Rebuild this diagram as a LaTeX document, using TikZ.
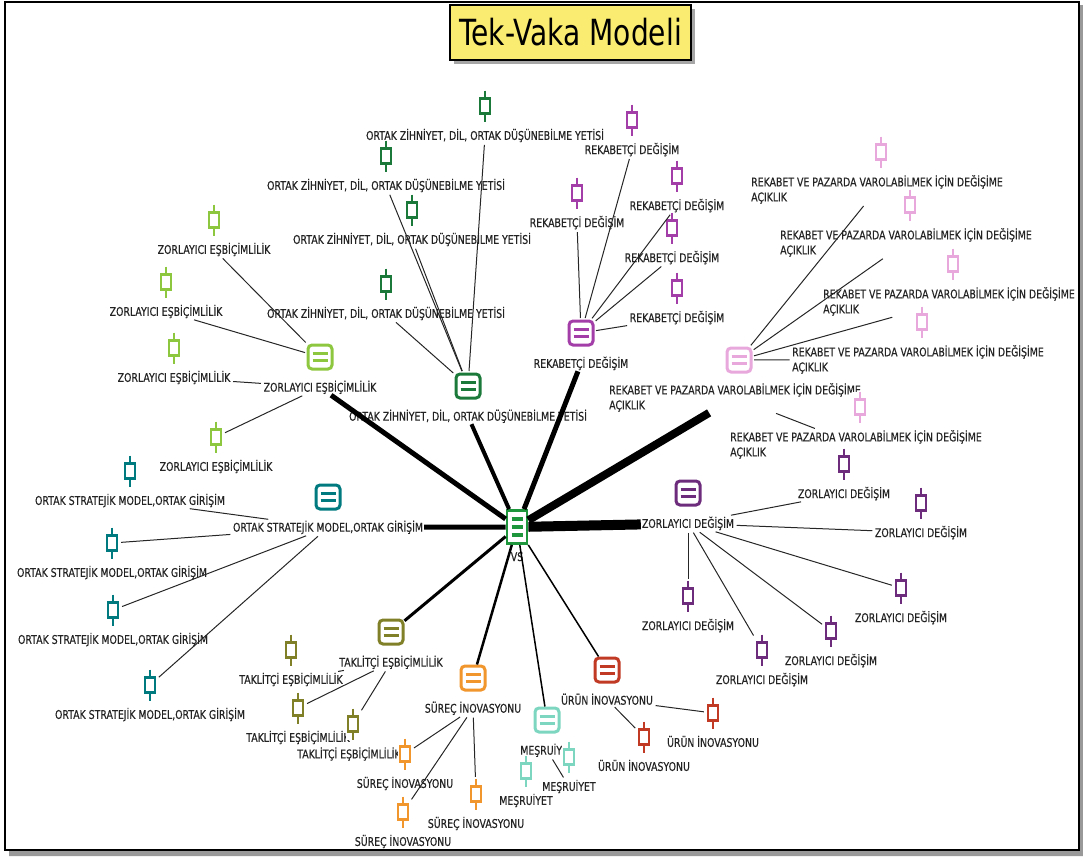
\documentclass[tikz,border=0pt]{standalone}
\usepackage{fontspec}
\usepackage{tikz}
\usetikzlibrary{positioning}
\newfontfamily\lblfont{DejaVu Sans}[FakeStretch=0.78, FakeBold=0.4]
\newfontfamily\ttlfont{DejaVu Sans}[FakeStretch=0.78]
\definecolor{txtC}{RGB}{35,35,35}
\definecolor{titleC}{RGB}{250,236,112}
\definecolor{vsC}{RGB}{30,150,60}
\definecolor{zeC}{RGB}{141,198,63}
\definecolor{ozC}{RGB}{27,122,58}
\definecolor{rdC}{RGB}{163,62,168}
\definecolor{rpC}{RGB}{232,168,220}
\definecolor{zdC}{RGB}{110,44,124}
\definecolor{osC}{RGB}{0,122,126}
\definecolor{teC}{RGB}{128,128,40}
\definecolor{siC}{RGB}{240,150,44}
\definecolor{meC}{RGB}{125,214,192}
\definecolor{uiC}{RGB}{192,58,36}
\tikzset{
  lbl/.style={font={\lblfont\fontsize{12}{15}\selectfont}, text=txtC, inner sep=1pt},
  lbl2/.style={lbl, align=left, anchor=north west},
  hub/.style={draw=#1, fill=white, line width=3pt, rounded corners=4pt,
    minimum size=24pt, inner sep=0pt,
    path picture={\draw[#1, line width=2.8pt, sharp corners]
      ([shift={(-7.5pt,3.8pt)}]path picture bounding box.center) -- +(15pt,0pt)
      ([shift={(-7.5pt,-3.8pt)}]path picture bounding box.center) -- +(15pt,0pt);}},
  leaf/.style={fill=white, minimum width=15pt, minimum height=31pt, inner sep=0pt,
    path picture={\draw[#1, line width=2.8pt]
      ([yshift=15.5pt]path picture bounding box.center) -- ([yshift=-15.5pt]path picture bounding box.center);
      \filldraw[draw=#1, fill=white, line width=2.8pt]
      ([shift={(-5pt,-7.5pt)}]path picture bounding box.center) rectangle
      ([shift={(5pt,7.5pt)}]path picture bounding box.center);}},
  vs/.style={draw=vsC, fill=white, line width=2.8pt, minimum width=20pt,
    minimum height=33pt, inner sep=0pt,
    path picture={\foreach \dy in {-8,0,8}
      \draw[vsC, line width=4.2pt] ([shift={(-5.5pt,\dy pt)}]path picture bounding box.center) -- +(11pt,0pt);}},
  link/.style={draw=black!85, line width=1pt, shorten <=1.5pt, shorten >=1.5pt}
}
\begin{document}
\begin{tikzpicture}[x=1pt, y=-1pt]
  \useasboundingbox (0,0) rectangle (1083,857);
  \fill[black!40] (9,851) rectangle (1083,856) (1079,5) rectangle (1083,856);
  \draw[line width=2pt] (5,1.5) rectangle (1079,850);
  \fill[gray!70] (454,9) rectangle (695,64);
  \node [draw, line width=1.2pt, fill=titleC, minimum width=241pt, minimum height=55pt,
    inner sep=0pt, font={\ttlfont\fontsize{36}{40}\selectfont}] (T) at (570.5,32.5) {Tek-Vaka Modeli};

  \node [vs] (V) at (517,527) {};
  \node [lbl, below=6pt of V] (VL) {VS};

  \node [hub=zeC] (ZE) at (320,357) {};
  \node [lbl, below=9pt of ZE] (ZEL) {ZORLAYICI EŞBİÇİMLİLİK};
  \node [leaf=zeC] (ZE1) at (214,220) {};
  \node [lbl, below=6pt of ZE1] (ZE1L) {ZORLAYICI EŞBİÇİMLİLİK};
  \node [leaf=zeC] (ZE2) at (166,282) {};
  \node [lbl, below=6pt of ZE2] (ZE2L) {ZORLAYICI EŞBİÇİMLİLİK};
  \node [leaf=zeC] (ZE3) at (174,348) {};
  \node [lbl, below=6pt of ZE3] (ZE3L) {ZORLAYICI EŞBİÇİMLİLİK};
  \node [leaf=zeC] (ZE4) at (216,437) {};
  \node [lbl, below=6pt of ZE4] (ZE4L) {ZORLAYICI EŞBİÇİMLİLİK};

  \node [hub=ozC] (OZ) at (468,386) {};
  \node [lbl, below=9pt of OZ] (OZL) {ORTAK ZİHNİYET, DİL, ORTAK DÜŞÜNEBİLME YETİSİ};
  \node [leaf=ozC] (OZ1) at (485,106) {};
  \node [lbl, below=6pt of OZ1] (OZ1L) {ORTAK ZİHNİYET, DİL, ORTAK DÜŞÜNEBİLME YETİSİ};
  \node [leaf=ozC] (OZ2) at (386,156) {};
  \node [lbl, below=6pt of OZ2] (OZ2L) {ORTAK ZİHNİYET, DİL, ORTAK DÜŞÜNEBİLME YETİSİ};
  \node [leaf=ozC] (OZ3) at (412,210) {};
  \node [lbl, below=6pt of OZ3] (OZ3L) {ORTAK ZİHNİYET, DİL, ORTAK DÜŞÜNEBİLME YETİSİ};
  \node [leaf=ozC] (OZ4) at (386,284) {};
  \node [lbl, below=6pt of OZ4] (OZ4L) {ORTAK ZİHNİYET, DİL, ORTAK DÜŞÜNEBİLME YETİSİ};

  \node [hub=rdC] (RD) at (581,333) {};
  \node [lbl, below=9pt of RD] (RDL) {REKABETÇİ DEĞİŞİM};
  \node [leaf=rdC] (RD1) at (632,120) {};
  \node [lbl, below=6pt of RD1] (RD1L) {REKABETÇİ DEĞİŞİM};
  \node [leaf=rdC] (RD2) at (577,193) {};
  \node [lbl, below=6pt of RD2] (RD2L) {REKABETÇİ DEĞİŞİM};
  \node [leaf=rdC] (RD3) at (677,176) {};
  \node [lbl, below=6pt of RD3] (RD3L) {REKABETÇİ DEĞİŞİM};
  \node [leaf=rdC] (RD4) at (672,228) {};
  \node [lbl, below=6pt of RD4] (RD4L) {REKABETÇİ DEĞİŞİM};
  \node [leaf=rdC] (RD5) at (677,288) {};
  \node [lbl, below=6pt of RD5] (RD5L) {REKABETÇİ DEĞİŞİM};

  \node [hub=rpC] (RP) at (739,360) {};
  \node [lbl2] (RPL) at ([shift={(-131pt,-22pt)}]RP.center) {REKABET VE PAZARDA VAROLABİLMEK İÇİN DEĞİŞİME\\AÇIKLIK};
  \node [leaf=rpC] (RP1) at (881,152) {};
  \node [lbl2] (RP1L) at ([shift={(-131pt,-22pt)}]RP1.center) {REKABET VE PAZARDA VAROLABİLMEK İÇİN DEĞİŞİME\\AÇIKLIK};
  \node [leaf=rpC] (RP2) at (910,205) {};
  \node [lbl2] (RP2L) at ([shift={(-131pt,-22pt)}]RP2.center) {REKABET VE PAZARDA VAROLABİLMEK İÇİN DEĞİŞİME\\AÇIKLIK};
  \node [leaf=rpC] (RP3) at (953,264) {};
  \node [lbl2] (RP3L) at ([shift={(-131pt,-22pt)}]RP3.center) {REKABET VE PAZARDA VAROLABİLMEK İÇİN DEĞİŞİME\\AÇIKLIK};
  \node [leaf=rpC] (RP4) at (922,322) {};
  \node [lbl2] (RP4L) at ([shift={(-131pt,-22pt)}]RP4.center) {REKABET VE PAZARDA VAROLABİLMEK İÇİN DEĞİŞİME\\AÇIKLIK};
  \node [leaf=rpC] (RP5) at (860,407) {};
  \node [lbl2] (RP5L) at ([shift={(-131pt,-22pt)}]RP5.center) {REKABET VE PAZARDA VAROLABİLMEK İÇİN DEĞİŞİME\\AÇIKLIK};

  \node [hub=zdC] (ZD) at (688,493) {};
  \node [lbl, below=9pt of ZD] (ZDL) {ZORLAYICI DEĞİŞİM};
  \node [leaf=zdC] (ZD1) at (844,464) {};
  \node [lbl, below=6pt of ZD1] (ZD1L) {ZORLAYICI DEĞİŞİM};
  \node [leaf=zdC] (ZD2) at (921,503) {};
  \node [lbl, below=6pt of ZD2] (ZD2L) {ZORLAYICI DEĞİŞİM};
  \node [leaf=zdC] (ZD3) at (688,596) {};
  \node [lbl, below=6pt of ZD3] (ZD3L) {ZORLAYICI DEĞİŞİM};
  \node [leaf=zdC] (ZD4) at (762,650) {};
  \node [lbl, below=6pt of ZD4] (ZD4L) {ZORLAYICI DEĞİŞİM};
  \node [leaf=zdC] (ZD5) at (831,631) {};
  \node [lbl, below=6pt of ZD5] (ZD5L) {ZORLAYICI DEĞİŞİM};
  \node [leaf=zdC] (ZD6) at (901,588) {};
  \node [lbl, below=6pt of ZD6] (ZD6L) {ZORLAYICI DEĞİŞİM};

  \node [hub=osC] (OS) at (328,497) {};
  \node [lbl, below=9pt of OS] (OSL) {ORTAK STRATEJİK MODEL,ORTAK GİRİŞİM};
  \node [leaf=osC] (OS1) at (130,471) {};
  \node [lbl, below=6pt of OS1] (OS1L) {ORTAK STRATEJİK MODEL,ORTAK GİRİŞİM};
  \node [leaf=osC] (OS2) at (112,543) {};
  \node [lbl, below=6pt of OS2] (OS2L) {ORTAK STRATEJİK MODEL,ORTAK GİRİŞİM};
  \node [leaf=osC] (OS3) at (113,610) {};
  \node [lbl, below=6pt of OS3] (OS3L) {ORTAK STRATEJİK MODEL,ORTAK GİRİŞİM};
  \node [leaf=osC] (OS4) at (150,685) {};
  \node [lbl, below=6pt of OS4] (OS4L) {ORTAK STRATEJİK MODEL,ORTAK GİRİŞİM};

  \node [hub=teC] (TE) at (391,632) {};
  \node [lbl, below=9pt of TE] (TEL) {TAKLİTÇİ EŞBİÇİMLİLİK};
  \node [leaf=teC] (TE1) at (291,650) {};
  \node [lbl, below=6pt of TE1] (TE1L) {TAKLİTÇİ EŞBİÇİMLİLİK};
  \node [leaf=teC] (TE2) at (298,708) {};
  \node [lbl, below=6pt of TE2] (TE2L) {TAKLİTÇİ EŞBİÇİMLİLİK};
  \node [lbl] (TE3L) at (349,754) {TAKLİTÇİ EŞBİÇİMLİLİK};
  \node [leaf=teC] (TE3) at (353,724) {};

  \node [hub=siC] (SI) at (473,678) {};
  \node [lbl, below=9pt of SI] (SIL) {SÜREÇ İNOVASYONU};
  \node [leaf=siC] (SI1) at (405,754) {};
  \node [lbl, below=6pt of SI1] (SI1L) {SÜREÇ İNOVASYONU};
  \node [leaf=siC] (SI2) at (403,812) {};
  \node [lbl, below=6pt of SI2] (SI2L) {SÜREÇ İNOVASYONU};
  \node [leaf=siC] (SI3) at (476,794) {};
  \node [lbl, below=6pt of SI3] (SI3L) {SÜREÇ İNOVASYONU};

  \node [hub=meC] (ME) at (547,720) {};
  \node [lbl, below=9pt of ME] (MEL) {MEŞRUİYET};
  \node [leaf=meC] (ME1) at (526,771) {};
  \node [lbl, below=6pt of ME1] (ME1L) {MEŞRUİYET};
  \node [leaf=meC] (ME2) at (569,757) {};
  \node [lbl, below=6pt of ME2] (ME2L) {MEŞRUİYET};

  \node [hub=uiC] (UI) at (607,670) {};
  \node [lbl, below=9pt of UI] (UIL) {ÜRÜN İNOVASYONU};
  \node [leaf=uiC] (UI1) at (713,713) {};
  \node [lbl, below=6pt of UI1] (UI1L) {ÜRÜN İNOVASYONU};
  \node [leaf=uiC] (UI2) at (644,737) {};
  \node [lbl, below=6pt of UI2] (UI2L) {ÜRÜN İNOVASYONU};

  \path[link] (ZE) edge (ZE1L) edge (ZE2L)
              (ZEL) edge (ZE3L) edge (ZE4)
              (OZ) edge (OZ1L) edge (OZ2L) edge (OZ3L) edge (OZ4L)
              (RD) edge (RD1L) edge (RD2L) edge (RD3L) edge (RD4L) edge (RD5L)
              (RP) edge (RP1L) edge (RP2L) edge (RP3L) edge (RP4L)
              (RPL) edge (RP5L)
              (ZDL) edge (ZD1L) edge (ZD2L) edge (ZD3) edge (ZD4) edge (ZD5) edge (ZD6)
              (OSL) edge (OS1L) edge (OS2) edge (OS3) edge (OS4)
              (TEL) edge (TE1L) edge (TE2) edge (TE3)
              (SIL) edge (SI1) edge (SI2) edge (SI3)
              (MEL) edge (ME2L)
              (UIL) edge (UI1) edge (UI2);
  \path (V) edge [line width=5pt]   (ZEL)
            edge [line width=4pt]   (OZL)
            edge [line width=5pt]   (RDL)
            edge [line width=8pt]   (RPL)
            edge [line width=10pt]  (ZDL)
            edge [line width=5pt]   (OSL)
            edge [line width=3pt]   (TE)
            edge [line width=2.5pt] (SI)
            edge [line width=1.5pt] (ME)
            edge [line width=1.5pt] (UI);
\end{tikzpicture}
\end{document}
